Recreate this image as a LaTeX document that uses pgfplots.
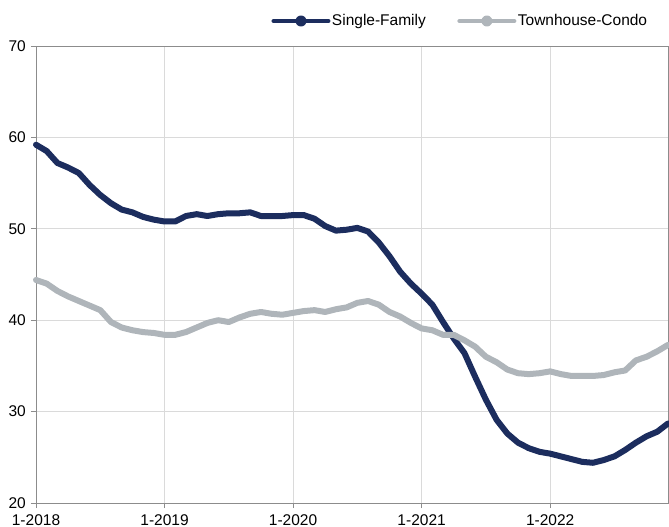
\documentclass[border=0pt]{standalone}
\usepackage{pgfplots}
\pgfplotsset{compat=1.18}
\usepackage{pgfplotstable}
\usepackage{fontspec}
\setmainfont{Liberation Sans}
\definecolor{navy}{HTML}{1C2D5E}
\definecolor{lgrey}{HTML}{AFB5BA}
\definecolor{gridc}{HTML}{DADADA}
\definecolor{axc}{HTML}{8C8C8C}
\pgfplotstableread{
m sf th
0 59.2 44.4
1 58.5 44.0
2 57.2 43.2
3 56.7 42.6
4 56.1 42.1
5 54.8 41.6
6 53.7 41.1
7 52.8 39.8
8 52.1 39.2
9 51.8 38.9
10 51.3 38.7
11 51.0 38.6
12 50.8 38.4
13 50.8 38.4
14 51.4 38.7
15 51.6 39.2
16 51.4 39.7
17 51.6 40.0
18 51.7 39.8
19 51.7 40.3
20 51.8 40.7
21 51.4 40.9
22 51.4 40.7
23 51.4 40.6
24 51.5 40.8
25 51.5 41.0
26 51.1 41.1
27 50.3 40.9
28 49.8 41.2
29 49.9 41.4
30 50.1 41.9
31 49.7 42.1
32 48.5 41.7
33 47.0 40.9
34 45.3 40.4
35 44.0 39.7
36 42.9 39.1
37 41.7 38.9
38 39.8 38.4
39 38.0 38.4
40 36.4 37.8
41 33.8 37.1
42 31.3 36.0
43 29.1 35.4
44 27.6 34.6
45 26.6 34.2
46 26.0 34.1
47 25.6 34.2
48 25.4 34.4
49 25.1 34.1
50 24.8 33.9
51 24.5 33.9
52 24.4 33.9
53 24.7 34.0
54 25.1 34.3
55 25.8 34.5
56 26.6 35.6
57 27.3 36.0
58 27.8 36.6
59 28.7 37.3
}\datatable
\begin{document}
\fontsize{15.5bp}{18bp}\selectfont
\begin{tikzpicture}
\begin{axis}[
  at={(36bp,24bp)}, anchor=south west,
  width=632bp, height=457bp, scale only axis,
  xmin=0, xmax=59, ymin=20, ymax=70,
  xtick={0,12,24,36,48},
  xticklabels={1-2018,1-2019,1-2020,1-2021,1-2022},
  ytick={20,30,40,50,60,70},
  grid=major,
  major grid style={color=gridc, line width=0.9bp},
  axis line style={color=axc, line width=0.9bp},
  tick style={color=axc, line width=0.9bp},
  tick align=outside, major tick length=5bp,
  xtick pos=bottom, ytick pos=left,
  /pgf/number format/assume math mode=true,
  tick label style={font=\fontsize{15.5bp}{18bp}\selectfont},
  yticklabel style={inner sep=0pt, xshift=-5bp},
  xticklabel style={inner sep=0pt, yshift=-6bp},
  clip=false,
  legend columns=2,
  legend style={draw=none, fill=none, inner sep=0pt, outer sep=0pt,
    at={(0.3726,1.0547)}, anchor=west,
    font=\fontsize{15.5bp}{18bp}\selectfont,
    nodes={inner sep=1.5bp},
    /tikz/every even column/.append style={column sep=30bp}},
  legend image code/.code={
    \draw[#1, line width=4bp] (0bp,0bp) -- (55bp,0bp);
    \fill[#1] (27.5bp,0bp) circle (2.6bp);
  },
]
\addplot[navy, line width=6bp, line join=round, line cap=round] table[x=m, y=sf] {\datatable};
\addlegendentry{Single-Family}
\addplot[lgrey, line width=6bp, line join=round, line cap=round] table[x=m, y=th] {\datatable};
\addlegendentry{Townhouse-Condo}
\end{axis}
\pgfresetboundingbox
\useasboundingbox (0bp,0bp) rectangle (669bp,527bp);
\end{tikzpicture}
\end{document}
